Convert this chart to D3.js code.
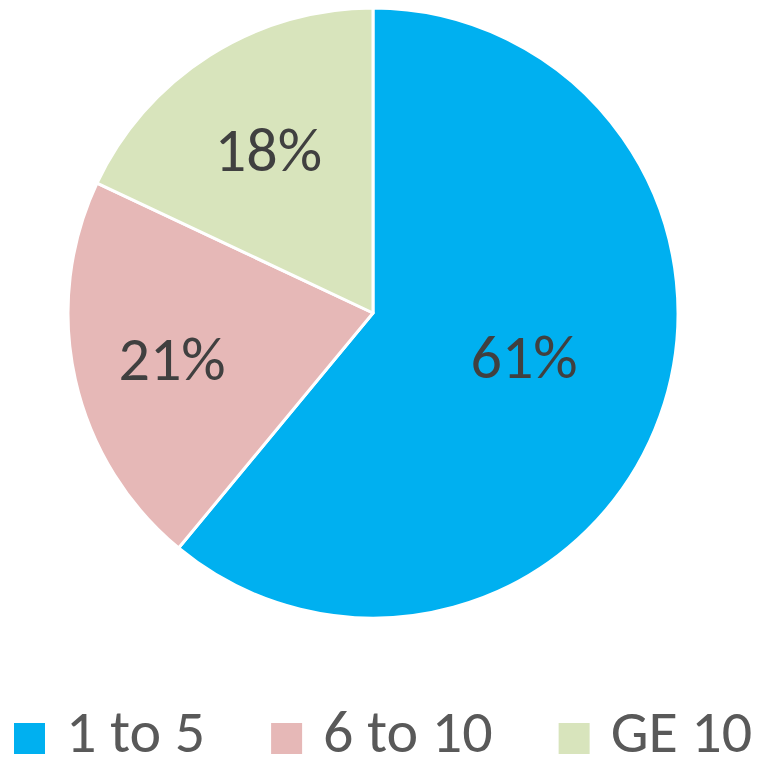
<!DOCTYPE html>
<html>
<head>
<meta charset="utf-8">
<script src="https://cdn.jsdelivr.net/npm/d3@7"></script>
<style>
  body { margin: 0; background: #fff; }
  text { font-family: Carlito, Calibri, Lato, sans-serif; }
</style>
</head>
<body>
<div id="chart"></div>
<script>
// pie of groups, labels inside, legend below
var categories = ["1 to 5", "6 to 10", "GE 10"];
var values = [61, 21, 18];
var colours = ["#00B0F0", "#E6B8B7", "#D8E4BC"];

var width = 759, height = 769;
var cx = 373, cy = 313, radius = 305;
// label placement: share of radius, and a small turn off the bisector (radians)
var labelPos = [0.515, 0.675, 0.64];
var labelTurn = [-0.068, 0, 0];

var svg = d3.select("#chart")
  .append("svg")
  .attr("width", width)
  .attr("height", height);

var g = svg.append("g")
  .attr("transform", "translate(" + cx + "," + cy + ")");

var pie = d3.pie().sort(null).value(function (d) { return d; });
var arcs = pie(values);

var arc = d3.arc().innerRadius(0).outerRadius(radius);

g.selectAll("path")
  .data(arcs)
  .enter()
  .append("path")
  .attr("d", arc)
  .attr("fill", function (d, i) { return colours[i]; })
  .attr("stroke", "#fff")
  .attr("stroke-width", 3)
  .attr("stroke-linejoin", "round");

g.selectAll(".lbl")
  .data(arcs)
  .enter()
  .append("text")
  .attr("class", "lbl")
  .attr("transform", function (d, i) {
    var r = radius * labelPos[i];
    var a = (d.startAngle + d.endAngle) / 2 + labelTurn[i];
    return "translate(" + (Math.sin(a) * r) + "," + (-Math.cos(a) * r) + ")";
  })
  .attr("text-anchor", "middle")
  .attr("dy", "0.36em")
  .style("font-size", "62px")
  .attr("fill", "#404040")
  .text(function (d) { return d.data + "%"; });

// legend
var legend = svg.append("g");
var item = legend.selectAll("g")
  .data(categories)
  .enter()
  .append("g");

item.append("rect")
  .attr("width", 31)
  .attr("height", 31)
  .attr("y", 723)
  .attr("fill", function (d, i) { return colours[i]; });

item.append("text")
  .attr("x", 52)
  .attr("y", 752)
  .style("font-size", "60px")
  .attr("fill", "#595959")
  .text(function (d) { return d; });

var xPos = 14;
item.each(function () {
  var w = d3.select(this).select("text").node().getComputedTextLength();
  d3.select(this).attr("transform", "translate(" + xPos + ",0)");
  xPos += 52 + w + 66;
});
</script>
</body>
</html>
